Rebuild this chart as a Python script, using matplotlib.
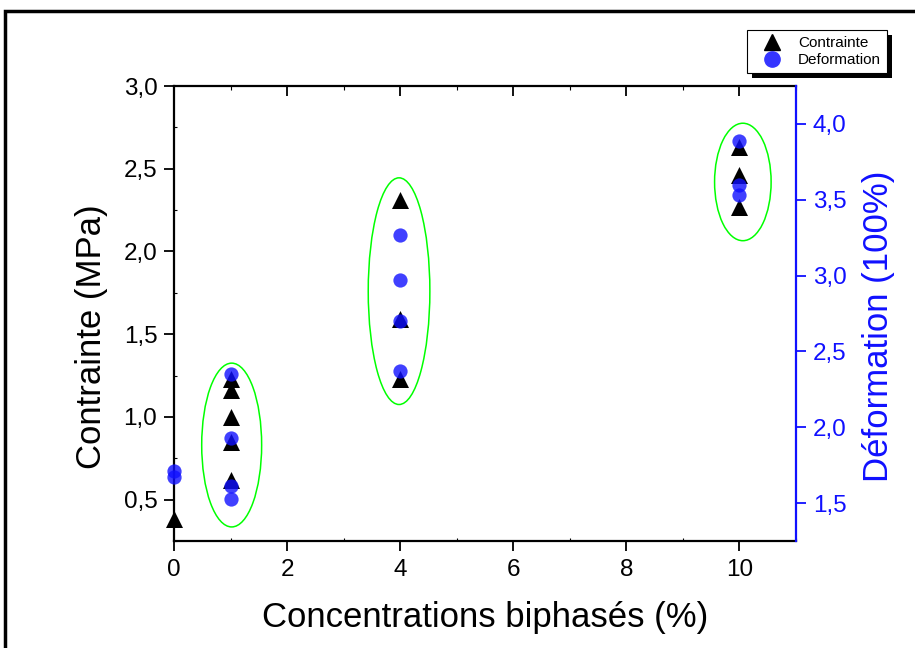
import matplotlib
matplotlib.use("Agg")
import matplotlib.pyplot as plt
from matplotlib.patches import Ellipse, Rectangle
from matplotlib.ticker import FuncFormatter, MultipleLocator
from matplotlib.lines import Line2D

plt.rcParams['font.family'] = ['Liberation Sans', 'DejaVu Sans']

# Data
stress_x = [0, 1, 1, 1, 1, 1, 4, 4, 4, 10, 10, 10]
stress_y = [0.38, 1.23, 1.16, 1.00, 0.85, 0.62, 2.31, 1.59, 1.23, 2.63, 2.46, 2.27]
strain_x = [0, 0, 1, 1, 1, 1, 4, 4, 4, 4, 10, 10, 10]
strain_y = [1.71, 1.67, 2.35, 1.93, 1.61, 1.53, 3.27, 2.97, 2.70, 2.37, 3.89, 3.60, 3.53]

# Group ellipses (center x, center y on left axis, width, height)
group_cx = [1.02, 3.98, 10.06]
group_cy = [0.83, 1.76, 2.42]
group_w = [1.06, 1.09, 1.0]
group_h = [0.99, 1.37, 0.71]

xlabel = "Concentrations biphasés (%)"
ylabel_left = "Contrainte (MPa)"
ylabel_right = "Déformation (100%)"
legend_labels = ["Contrainte", "Deformation"]

BLUE = '#1010ff'

fig = plt.figure(figsize=(9.15, 6.48), dpi=100)
ax = fig.add_axes([174/915, 1-541/648, (796-174)/915, (541-86)/648])
ax2 = ax.twinx()

comma = FuncFormatter(lambda v, p: f"{v:.1f}".replace('.', ','))

ax.set_xlim(0, 11)
ax.set_ylim(0.25, 3.0)
ax2.set_ylim(1.25, 4.25)

ax.scatter(stress_x, stress_y, marker='^', s=150, color='black', zorder=3, clip_on=False, linewidths=0)
ax2.scatter(strain_x, strain_y, marker='o', s=105, color=BLUE, alpha=0.8, zorder=4, clip_on=False, linewidths=0)

for cx, cy, w, h in zip(group_cx, group_cy, group_w, group_h):
    ax.add_patch(Ellipse((cx, cy), w, h, fill=False, edgecolor='#00ff00', lw=1.1, zorder=2))

ax.xaxis.set_major_locator(MultipleLocator(2))
ax.xaxis.set_minor_locator(MultipleLocator(1))
ax.yaxis.set_major_locator(MultipleLocator(0.5))
ax.yaxis.set_minor_locator(MultipleLocator(0.25))
ax.yaxis.set_major_formatter(comma)
ax2.yaxis.set_major_locator(MultipleLocator(0.5))
ax2.yaxis.set_major_formatter(comma)

ax.tick_params(axis='both', which='major', direction='out', length=7, width=1.3, labelsize=17.5, pad=5)
ax.tick_params(axis='both', which='minor', direction='in', length=2, width=0.8)
ax.tick_params(axis='x', top=True, which='both')
ax.tick_params(axis='x', which='major', pad=6)

ax2.tick_params(axis='y', which='major', direction='out', length=7, width=1.3, labelsize=17.5,
                colors=BLUE, pad=5)

for s in ['left', 'bottom', 'top']:
    ax.spines[s].set_linewidth(1.6)
ax.spines['right'].set_visible(False)
for s in ['left', 'bottom', 'top']:
    ax2.spines[s].set_visible(False)
ax2.spines['right'].set_color(BLUE)
ax2.spines['right'].set_linewidth(1.6)

# top ticks inward
for t in ax.xaxis.get_major_ticks():
    t.tick2line.set_marker(3)  # TICKDOWN
    t.tick2line.set_markersize(7)
for t in ax.xaxis.get_minor_ticks():
    t.tick2line.set_markersize(3)

ax.set_xlabel(xlabel, fontsize=25, labelpad=14)
ax.set_ylabel(ylabel_left, fontsize=25, labelpad=11)
ax2.set_ylabel(ylabel_right, fontsize=25, color=BLUE, labelpad=11.5)
ax.yaxis.label.set_y(0.448)
ax2.yaxis.label.set_y(0.471)

# Legend
handles = [Line2D([], [], marker='^', color='black', linestyle='none', markersize=12),
           Line2D([], [], marker='o', color='#3535ff', linestyle='none', markersize=11)]
leg = fig.legend(handles, legend_labels, loc='upper right', bbox_to_anchor=(887/915, 1-30/648),
                 fontsize=11, frameon=True, fancybox=False, shadow=False, framealpha=1,
                 edgecolor='black', facecolor='white', borderpad=0.4, handletextpad=0.5,
                 labelspacing=0.2, handlelength=2.4, borderaxespad=0)
leg.get_frame().set_linewidth(0.8)
leg.set_zorder(5)

# legend drop shadow (5 px offset)
fig.canvas.draw()
bb = leg.get_frame().get_window_extent().transformed(fig.transFigure.inverted())
fig.patches.append(Rectangle((bb.x0 + 5/915, bb.y0 - 5/648), bb.width, bb.height,
                             transform=fig.transFigure, facecolor='black', edgecolor='none', zorder=4))

# figure frame
fig.patches.append(Rectangle((5/915, -0.1), 1.2, 1 - 11/648 + 0.1, transform=fig.transFigure,
                             fill=False, edgecolor='black', lw=2.5, zorder=0))

fig.savefig("out.png", dpi=100)
